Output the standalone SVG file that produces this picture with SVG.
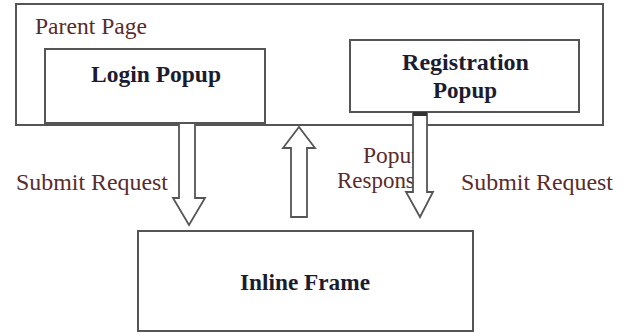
<svg xmlns="http://www.w3.org/2000/svg" width="628" height="335" viewBox="0 0 628 335">
<style>
.box{fill:#fff;stroke:#555;stroke-width:2}
.arr{fill:#fff;stroke:#555;stroke-width:1.8;stroke-linejoin:miter}
.lbl{font-family:'Liberation Serif','Times New Roman',Times,serif;font-size:23px;fill:#5a2b2b}
.bold{font-family:'Liberation Serif','Times New Roman',Times,serif;font-size:23px;font-weight:bold;fill:#1c1c30}
</style>
<rect width="628" height="335" fill="#fff"/>
<g id="parent-page">
<rect class="box" x="16" y="4" width="587" height="121"/>
<text class="lbl" x="35" y="34" textLength="112" lengthAdjust="spacingAndGlyphs">Parent Page</text>
</g>
<g id="login-popup">
<rect class="box" x="45" y="49" width="220" height="74"/>
<text class="bold" x="91" y="82" textLength="130" lengthAdjust="spacingAndGlyphs">Login Popup</text>
</g>
<g id="registration-popup">
<rect class="box" x="350" y="40" width="229" height="72"/>
<text class="bold" x="402" y="70" textLength="127" lengthAdjust="spacingAndGlyphs">Registration</text>
<text class="bold" x="433" y="98" textLength="64" lengthAdjust="spacingAndGlyphs">Popup</text>
</g>
<g id="inline-frame">
<rect class="box" x="138" y="231" width="335" height="100"/>
<text class="bold" x="240" y="290" textLength="130" lengthAdjust="spacingAndGlyphs">Inline Frame</text>
</g>
<g id="labels">
<text class="lbl" x="16" y="190" textLength="152" lengthAdjust="spacingAndGlyphs">Submit Request</text>
<text class="lbl" x="461" y="190" textLength="152" lengthAdjust="spacingAndGlyphs">Submit Request</text>
<text class="lbl" x="363" y="163" textLength="60" lengthAdjust="spacingAndGlyphs">Popup</text>
<text class="lbl" x="337" y="188" textLength="88" lengthAdjust="spacingAndGlyphs">Response</text>
</g>
<g id="connectors">
<path class="arr" d="M179,123 L195,123 L195,198 L205,198 L189,225 L173,198 L179,198 Z"/>
<path class="arr" d="M291,217 L307,217 L307,148 L315,148 L299,127 L283,148 L291,148 Z"/>
<path class="arr" d="M413,113 L427,113 L427,192 L433,192 L420,217 L406,192 L413,192 Z"/>
<rect x="413" y="112" width="14" height="4" fill="#333"/>
</g>
</svg>
